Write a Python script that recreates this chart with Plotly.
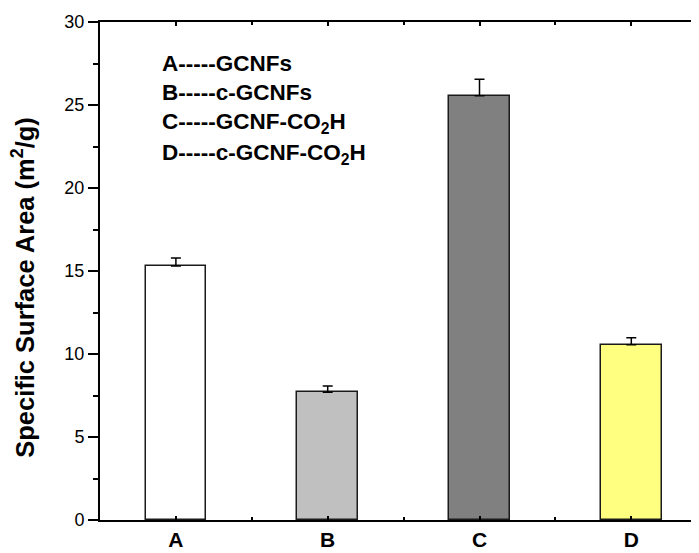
import plotly.graph_objects as go

categories = ["A", "B", "C", "D"]
surface_area = [15.3, 7.7, 25.55, 10.55]
errors = [0.48, 0.37, 1.0, 0.43]
bar_colors = ["#ffffff", "#c0c0c0", "#808080", "#ffff80"]
legend_lines = [
    "A-----GCNFs",
    "B-----c-GCNFs",
    "C-----GCNF-CO<sub>2</sub>H",
    "D-----c-GCNF-CO<sub>2</sub>H",
]
y_title = "Specific Surface Area (m<sup>2</sup>/g)"

FONT = "Arial, Liberation Sans, sans-serif"
xpos = list(range(len(categories)))

fig = go.Figure()
fig.add_trace(go.Bar(
    x=xpos, y=surface_area, width=0.4,
    marker=dict(color=bar_colors, line=dict(color="#1a1a1a", width=1.5)),
    error_y=dict(type="data", array=errors, arrayminus=[0] * len(errors),
                 symmetric=False, color="black", thickness=1.5, width=5),
    showlegend=False,
))

ann_y = [0.917, 0.858, 0.797, 0.735]
for txt, yy in zip(legend_lines, ann_y):
    fig.add_annotation(text=f"<b>{txt}</b>", xref="paper", yref="paper", x=0.1, y=yy,
                       xanchor="left", yanchor="middle", showarrow=False,
                       font=dict(family=FONT, size=22.5, color="black"))

# y-axis title placed as a rotated annotation (sits slightly below the axis centre)
fig.add_annotation(text=f"<b>{y_title}</b>", xref="paper", yref="paper",
                   x=-0.128, y=0.467, xanchor="center", yanchor="middle",
                   textangle=-90, showarrow=False,
                   font=dict(family=FONT, size=25.5, color="black"))

# page body adds an 8px margin, so the figure is sized to fill the window exactly
fig.update_layout(
    width=691, height=545,
    margin=dict(l=92, r=0, t=14, b=33),
    plot_bgcolor="white", paper_bgcolor="white",
    font=dict(family=FONT, color="black"),
    bargap=0,
)
fig.update_xaxes(
    range=[-0.5, 3.446], tickmode="array", tickvals=xpos, ticktext=[f"<b>{c}</b>" for c in categories],
    tickfont=dict(size=21, family=FONT, color="black"),
    showline=True, linecolor="black", linewidth=2, mirror="allticks",
    ticks="inside", ticklen=4, tickwidth=1.5, tickcolor="black",
    minor=dict(tickmode="array", tickvals=[0.5, 1.5, 2.5], ticks="inside", ticklen=3, tickcolor="black"),
    showgrid=False, zeroline=False,
)
fig.update_yaxes(
    range=[0, 30], dtick=5, tick0=0,
    tickfont=dict(size=18, family=FONT, color="black"),
    showline=True, linecolor="black", linewidth=2, mirror=False,
    ticks="outside", ticklen=10, tickwidth=1.5, tickcolor="black",
    minor=dict(dtick=2.5, ticks="outside", ticklen=5, tickcolor="black", tickwidth=1.5),
    showgrid=False, zeroline=False,
)

fig.write_html("out.html")
